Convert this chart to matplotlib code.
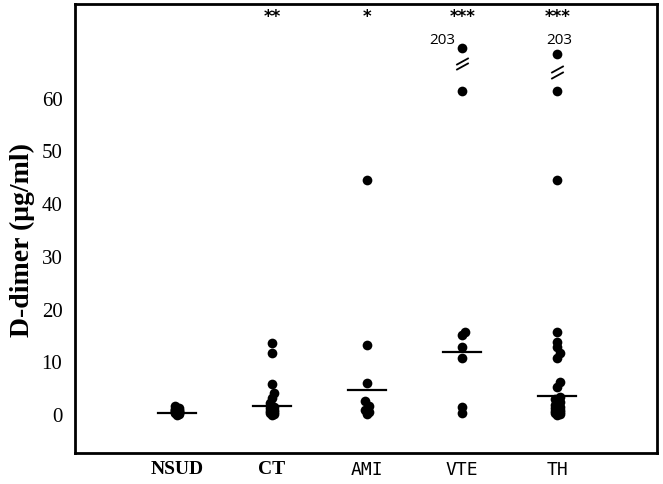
import numpy as np
import matplotlib.pyplot as plt
from matplotlib.path import Path

# D-dimer values (ug/ml)
groups = ['NSUD', 'CT', 'AMI', 'VTE', 'TH']
nsud = [0.1, 0.2, 0.3, 0.4, 0.5, 0.6, 0.7, 0.8, 0.9, 1.0, 1.2, 1.4, 1.7]
ct = [0.0, 0.2, 0.4, 0.6, 0.8, 1.0, 1.3, 1.6, 2.2, 3.2, 4.1, 5.8, 11.7, 13.6]
ami = [0.2, 0.5, 1.0, 1.8, 2.6, 6.0, 13.3, 44.5]
vte = [0.3, 1.6, 10.9, 13.0, 15.2, 15.8, 61.5, 203]
th = [0.0, 0.2, 0.4, 0.6, 0.8, 1.0, 1.3, 1.6, 2.0, 2.5, 3.0, 3.5, 5.4, 6.3,
      10.9, 11.7, 13.0, 13.9, 15.8, 44.5, 61.5, 203]
medians = [0.45, 1.8, 4.8, 11.9, 3.7]
stars = ['', '**', '*', '***', '***']

# broken axis: values above the cut are drawn near the top
cut = 65
broken_pos = [None, None, None, 69.6, 68.5]
break_mark = [None, None, None, 66.7, 65.1]

data = [nsud, ct, ami, vte, th]

fig = plt.figure(figsize=(6.63, 4.84), dpi=100)
ax = fig.add_axes([0.113, 0.064, 0.878, 0.928])

serif = 'Liberation Serif'


def swarm(vals, x0, step=0.025, gap=0.9):
    # narrow deterministic spread of close points
    vals = np.sort(np.asarray(vals, float))
    xs = np.full(len(vals), float(x0))
    run = 0
    for i in range(1, len(vals)):
        if vals[i] - vals[i - 1] < gap:
            run += 1
            xs[i] = x0 + (step if run % 2 else -step)
        else:
            run = 0
    return vals, xs


for i, vals in enumerate(data):
    x0 = i + 1
    v = np.array(vals, float)
    if broken_pos[i] is not None:
        v = np.where(v > cut, broken_pos[i], v)
    yv, xv = swarm(v, x0)
    ax.plot(xv, yv, 'o', color='black', ms=7, mew=0)
    ax.plot([x0 - 0.2, x0 + 0.2], [medians[i]] * 2, color='black', lw=1.6)
    if stars[i]:
        ax.text(x0, 75.6, stars[i], ha='center', va='center',
                fontsize=12, fontweight='bold')
    if break_mark[i] is not None:
        bm = Path([(-1, -0.55), (1, 0.55)], [Path.MOVETO, Path.LINETO])
        ax.plot([x0, x0], [break_mark[i] - 0.5, break_mark[i] + 0.5],
                linestyle='none', marker=bm, ms=9, mec='black', mew=1.3)

ax.text(4 - 0.07, 71.0, f'{max(vte):g}', ha='right', va='center',
        fontsize=11, family='Open Sans')
ax.text(5 + 0.02, 71.0, f'{max(th):g}', ha='center', va='center',
        fontsize=11, family='Open Sans')

ax.set_xlim(-0.074, 6.05)
ax.set_ylim(-7.2, 78)
ax.set_yticks(range(0, 61, 10))
ax.set_yticklabels([str(t) for t in range(0, 61, 10)], family=serif,
                   fontsize=15)
ax.set_xticks(range(1, 6))
ax.set_xticklabels(groups)
for j, lab in enumerate(ax.get_xticklabels()):
    if j < 2:
        lab.set_family(serif)
        lab.set_fontweight('bold')
        lab.set_fontsize(14)
    else:
        lab.set_family('DejaVu Sans Mono')
        lab.set_fontsize(13)
ax.tick_params(axis='y', length=0, pad=9)
ax.tick_params(axis='x', length=0, pad=6)
ax.set_ylabel('D-dimer (μg/ml)', family=serif, fontweight='bold',
              fontsize=20)
ax.yaxis.set_label_coords(-0.069, 0.474)
for s in ax.spines.values():
    s.set_linewidth(2)

fig.savefig('out.png', dpi=100)
